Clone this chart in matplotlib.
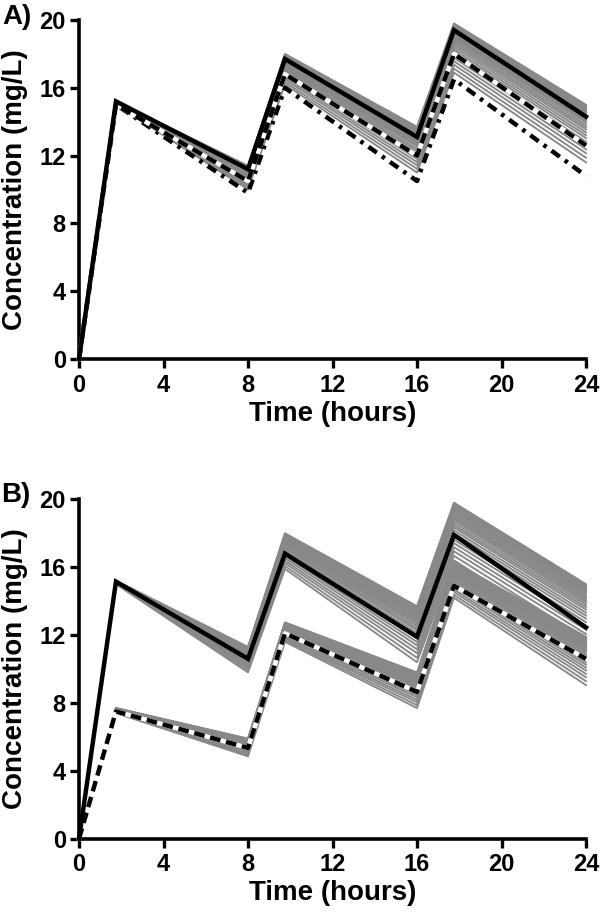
import matplotlib
matplotlib.use("Agg")
import matplotlib.pyplot as plt

plt.rcParams['font.family'] = ['Liberation Sans', 'DejaVu Sans']
plt.rcParams['font.weight'] = 'bold'

# ---------------- data ----------------
times = [0, 1.75, 8, 9.75, 16, 17.75, 24]
x_ticks = [0, 4, 8, 12, 16, 20, 24]
y_ticks = [0, 4, 8, 12, 16, 20]

# Panel A
A_solid = [0, 15.2, 11.2, 17.7, 13.1, 19.4, 14.3]
A_dashed = [0, 15.0, 10.5, 16.8, 12.0, 18.0, 12.6]
A_dashdot = [0, 15.0, 9.8, 16.0, 10.5, 16.5, 10.8]
A_gray = [
    [0, 15.20, 11.40, 18.00, 13.70, 19.80, 15.00],
    [0, 15.20, 11.37, 17.96, 13.65, 19.74, 14.93],
    [0, 15.19, 11.34, 17.93, 13.59, 19.68, 14.86],
    [0, 15.19, 11.32, 17.89, 13.54, 19.63, 14.80],
    [0, 15.18, 11.29, 17.86, 13.48, 19.57, 14.73],
    [0, 15.18, 11.26, 17.82, 13.43, 19.51, 14.66],
    [0, 15.18, 11.23, 17.78, 13.38, 19.45, 14.59],
    [0, 15.17, 11.20, 17.75, 13.32, 19.39, 14.52],
    [0, 15.17, 11.18, 17.71, 13.27, 19.34, 14.46],
    [0, 15.16, 11.13, 17.66, 13.19, 19.25, 14.35],
    [0, 15.16, 11.09, 17.60, 13.11, 19.16, 14.25],
    [0, 15.15, 11.05, 17.55, 13.03, 19.08, 14.15],
    [0, 15.14, 11.01, 17.50, 12.94, 18.99, 14.05],
    [0, 15.14, 10.97, 17.44, 12.86, 18.90, 13.95],
    [0, 15.13, 10.91, 17.37, 12.76, 18.79, 13.81],
    [0, 15.12, 10.85, 17.30, 12.65, 18.67, 13.67],
    [0, 15.11, 10.80, 17.23, 12.54, 18.55, 13.54],
    [0, 15.10, 10.73, 17.14, 12.40, 18.41, 13.37],
    [0, 15.09, 10.66, 17.05, 12.27, 18.26, 13.20],
    [0, 15.08, 10.59, 16.96, 12.13, 18.12, 13.03],
    [0, 15.07, 10.50, 16.85, 11.97, 17.94, 12.82],
    [0, 15.06, 10.42, 16.74, 11.81, 17.77, 12.62],
    [0, 15.05, 10.32, 16.61, 11.62, 17.57, 12.38],
    [0, 15.03, 10.22, 16.49, 11.43, 17.36, 12.14],
    [0, 15.02, 10.11, 16.34, 11.22, 17.13, 11.87],
    [0, 15.00, 10.00, 16.20, 11.00, 16.90, 11.60],
]

# Panel B
B_solid = [0, 15.15, 10.6, 16.8, 11.9, 17.9, 12.45]
B_dashed = [0, 7.5, 5.35, 12.1, 8.65, 14.9, 10.6]
B_gray_upper = [
    [0, 15.20, 11.30, 18.00, 13.70, 19.80, 15.00],
    [0, 15.20, 11.27, 17.96, 13.63, 19.73, 14.93],
    [0, 15.19, 11.24, 17.92, 13.57, 19.66, 14.86],
    [0, 15.19, 11.21, 17.87, 13.50, 19.60, 14.79],
    [0, 15.18, 11.18, 17.83, 13.44, 19.53, 14.72],
    [0, 15.18, 11.15, 17.79, 13.37, 19.46, 14.65],
    [0, 15.18, 11.12, 17.75, 13.30, 19.39, 14.58],
    [0, 15.17, 11.09, 17.71, 13.24, 19.32, 14.51],
    [0, 15.17, 11.06, 17.66, 13.17, 19.26, 14.44],
    [0, 15.16, 11.02, 17.60, 13.07, 19.15, 14.34],
    [0, 15.16, 10.97, 17.54, 12.97, 19.05, 14.23],
    [0, 15.15, 10.93, 17.48, 12.88, 18.95, 14.13],
    [0, 15.14, 10.88, 17.41, 12.78, 18.85, 14.02],
    [0, 15.14, 10.84, 17.35, 12.68, 18.75, 13.92],
    [0, 15.13, 10.78, 17.27, 12.55, 18.61, 13.78],
    [0, 15.12, 10.72, 17.18, 12.41, 18.47, 13.64],
    [0, 15.11, 10.66, 17.10, 12.28, 18.34, 13.50],
    [0, 15.10, 10.58, 16.99, 12.12, 18.17, 13.32],
    [0, 15.09, 10.51, 16.89, 11.95, 18.00, 13.15],
    [0, 15.08, 10.43, 16.78, 11.79, 17.83, 12.97],
    [0, 15.07, 10.34, 16.66, 11.59, 17.62, 12.76],
    [0, 15.06, 10.25, 16.53, 11.39, 17.42, 12.55],
    [0, 15.05, 10.15, 16.38, 11.16, 17.18, 12.31],
    [0, 15.03, 10.04, 16.24, 10.93, 16.94, 12.06],
    [0, 15.02, 9.92, 16.07, 10.66, 16.67, 11.78],
    [0, 15.00, 9.80, 15.90, 10.40, 16.40, 11.50],
]
B_gray_lower = [
    [0, 7.70, 5.90, 12.75, 9.80, 16.30, 11.90],
    [0, 7.69, 5.88, 12.73, 9.76, 16.26, 11.84],
    [0, 7.69, 5.86, 12.70, 9.72, 16.22, 11.79],
    [0, 7.68, 5.84, 12.68, 9.67, 16.17, 11.73],
    [0, 7.68, 5.82, 12.66, 9.63, 16.13, 11.67],
    [0, 7.67, 5.80, 12.64, 9.59, 16.09, 11.62],
    [0, 7.66, 5.77, 12.61, 9.55, 16.05, 11.56],
    [0, 7.66, 5.75, 12.59, 9.51, 16.01, 11.50],
    [0, 7.65, 5.73, 12.57, 9.46, 15.96, 11.44],
    [0, 7.64, 5.70, 12.53, 9.40, 15.90, 11.36],
    [0, 7.63, 5.67, 12.50, 9.34, 15.84, 11.27],
    [0, 7.63, 5.64, 12.46, 9.28, 15.78, 11.19],
    [0, 7.62, 5.61, 12.43, 9.21, 15.71, 11.10],
    [0, 7.61, 5.57, 12.39, 9.15, 15.65, 11.02],
    [0, 7.60, 5.53, 12.35, 9.07, 15.57, 10.90],
    [0, 7.58, 5.49, 12.30, 8.98, 15.48, 10.79],
    [0, 7.57, 5.45, 12.26, 8.90, 15.40, 10.67],
    [0, 7.56, 5.40, 12.20, 8.79, 15.29, 10.53],
    [0, 7.54, 5.34, 12.14, 8.69, 15.19, 10.39],
    [0, 7.53, 5.29, 12.08, 8.58, 15.08, 10.25],
    [0, 7.51, 5.23, 12.01, 8.46, 14.96, 10.08],
    [0, 7.49, 5.17, 11.95, 8.33, 14.83, 9.91],
    [0, 7.47, 5.09, 11.86, 8.18, 14.68, 9.71],
    [0, 7.45, 5.02, 11.78, 8.04, 14.54, 9.51],
    [0, 7.42, 4.93, 11.69, 7.87, 14.37, 9.28],
    [0, 7.40, 4.85, 11.60, 7.70, 14.20, 9.05],
]

panel_labels = ["A)", "B)"]
x_label = "Time (hours)"
y_label = "Concentration (mg/L)"

# ---------------- style ----------------
GRAY = "#888888"
GRAY_LW = 1.35
BLACK_LW = 3.2
SPINE_LW = 2.6
TICK_FS = 17
LABEL_FS = 20

W, H = 603, 918
fig = plt.figure(figsize=(W / 100, H / 100), dpi=100)
axA = fig.add_axes([79 / W, 1 - 359 / H, 507 / W, 339 / H])
axB = fig.add_axes([79 / W, 1 - 838.7 / H, 507 / W, 339.4 / H])


def style_axes(ax):
    ax.set_xlim(0, 24)
    ax.set_ylim(0, 20)
    ax.set_xticks(x_ticks)
    ax.set_yticks(y_ticks)
    for s in ("top", "right"):
        ax.spines[s].set_visible(False)
    for s in ("left", "bottom"):
        ax.spines[s].set_linewidth(SPINE_LW)
        ax.spines[s].set_capstyle("projecting")
    ax.tick_params(axis="both", direction="out", length=6.5, width=2.4,
                   labelsize=TICK_FS)
    ax.tick_params(axis="x", pad=4)
    ax.tick_params(axis="y", pad=3)
    for lab in ax.get_xticklabels() + ax.get_yticklabels():
        lab.set_fontweight("bold")
    ax.set_xlabel(x_label, fontsize=LABEL_FS, fontweight="bold", labelpad=3)


def gray_lines(ax, rows):
    for r in rows:
        ax.plot(times, r, color=GRAY, lw=GRAY_LW, solid_joinstyle="round",
                clip_on=False, zorder=2)


# Panel A
gray_lines(axA, A_gray)
axA.plot(times, A_dashdot, color="black", lw=BLACK_LW, linestyle=(0, (2.3, 1.4, 0.8, 1.4)),
         dash_capstyle="butt", clip_on=False, zorder=4)
axA.plot(times, A_dashed, color="white", lw=BLACK_LW, clip_on=False, zorder=4)
axA.plot(times, A_dashed, color="black", lw=BLACK_LW, linestyle=(0, (2.4, 1.3)),
         dash_capstyle="butt", clip_on=False, zorder=5)
axA.plot(times, A_solid, color="black", lw=BLACK_LW, solid_joinstyle="miter",
         clip_on=False, zorder=6)

# Panel B
gray_lines(axB, B_gray_upper)
gray_lines(axB, B_gray_lower)
axB.plot(times, B_dashed, color="white", lw=BLACK_LW, clip_on=False, zorder=4)
axB.plot(times, B_dashed, color="black", lw=BLACK_LW, linestyle=(0, (2.4, 1.3)),
         dash_capstyle="butt", clip_on=False, zorder=5)
axB.plot(times, B_solid, color="black", lw=BLACK_LW, solid_joinstyle="miter",
         clip_on=False, zorder=6)

for ax in (axA, axB):
    style_axes(ax)

# y labels
fig.text(15 / W, 1 - 190 / H, y_label, rotation=90, ha="center", va="center",
         fontsize=LABEL_FS, fontweight="bold")
fig.text(15 / W, 1 - 669 / H, y_label, rotation=90, ha="center", va="center",
         fontsize=LABEL_FS, fontweight="bold")

# panel letters
fig.text(2 / W, 1 - 17 / H, panel_labels[0], ha="left", va="center",
         fontsize=LABEL_FS, fontweight="bold")
fig.text(1 / W, 1 - 495 / H, panel_labels[1], ha="left", va="center",
         fontsize=LABEL_FS, fontweight="bold")

fig.savefig("out.png", dpi=100, facecolor="white")
